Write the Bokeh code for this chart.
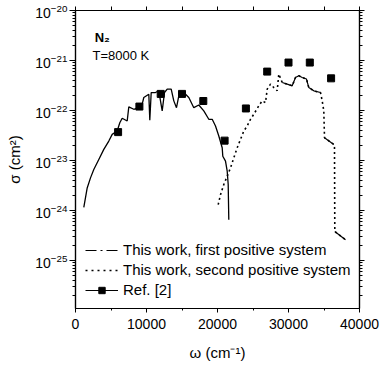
from bokeh.plotting import figure
from bokeh.models import (Range1d, LinearAxis, LogAxis, FixedTicker, Legend,
                          LegendItem)
from bokeh.core.properties import value
from bokeh.embed import file_html
from bokeh.resources import INLINE

NAN = float("nan")

# ---------------- data ----------------
# first positive system (cm^-1, cm^2)
fp_w = [1169, 1648, 2113, 2577, 3282, 3986, 4690, 5169, 5873, 6239, 6577, 7282,
        7507, 8211, 8915, 9394, 9620, 10324, 10465, 10662, 11268, 11732, 12211,
        12535, 12915, 13479, 13845, 14225, 14549, 15254, 15958, 16662, 17366,
        18070, 18775, 19254, 19718, 20183, 20662, 20746, 21127, 21366, 21507, 21592]
fp_s = [1.16e-24, 2.83e-24, 4.50e-24, 6.62e-24, 1.05e-23, 1.67e-23, 2.45e-23,
        3.34e-23, 3.89e-23, 5.71e-23, 7.00e-23, 6.18e-23, 1.18e-22, 1.06e-22,
        1.14e-22, 1.34e-22, 1.82e-22, 2.12e-22, 6.38e-23, 2.29e-22, 2.29e-22,
        2.48e-22, 9.82e-23, 2.29e-22, 2.68e-22, 2.68e-22, 1.56e-22, 1.14e-22,
        1.96e-22, 2.29e-22, 1.82e-22, 1.14e-22, 1.29e-22, 9.82e-23, 6.68e-23,
        6.68e-23, 4.91e-23, 3.09e-23, 1.80e-23, 1.22e-23, 9.72e-24, 6.12e-24,
        3.31e-24, 6.56e-25]

# second positive system
sp_w = [20099, 20423, 20887, 21366, 21831, 22296, 22775, 23239, 23704, 24183,
        24648, 25113, 25817, 26296, 26761, 27000, 27465, 27930, 28408, 28634,
        29113, 29817, 30521, 30986, 31451, 31930, 32535, 32859, 33563, 34507,
        34746, 34972, 35070, 36380, 36479, 36521, 38028]
sp_s = [1.31e-24, 2.08e-24, 3.31e-24, 4.86e-24, 7.13e-24, 1.13e-23, 1.80e-23,
        2.65e-23, 3.89e-23, 4.91e-23, 6.68e-23, 8.43e-23, 1.24e-22, 1.56e-22,
        1.44e-22, 2.68e-22, 3.37e-22, 2.88e-22, 2.48e-22, 5.36e-22, 3.63e-22,
        3.37e-22, 3.12e-22, 4.58e-22, 4.95e-22, 4.58e-22, 4.26e-22, 2.88e-22,
        2.48e-22, 2.29e-22, 1.56e-22, 9.82e-23, 2.86e-23, 2.10e-23, 1.80e-23,
        3.82e-25, 2.61e-25]
# portions of the second system that appear as continuous strokes
sp_solid_parts = [(20, 30), (32, 34), (35, 37)]

# Ref. [2]
ref_w = [6000, 9000, 12000, 15000, 18000, 21000, 24000, 27000, 30000, 33000, 36000]
ref_s = [3.7e-23, 1.2e-22, 2.15e-22, 2.15e-22, 1.55e-22, 2.5e-23, 1.1e-22,
         6.0e-22, 9.1e-22, 9.1e-22, 4.4e-22]

x_ticks = [0, 10000, 20000, 30000, 40000]
x_minor = [5000, 15000, 25000, 35000]
x_top_ticks = [0, 5000, 10000, 15000, 20000, 25000, 30000, 35000, 40000]
y_ticks = [1e-25, 1e-24, 1e-23, 1e-22, 1e-21, 1e-20]
y_minor = [m * 10.0 ** e for e in range(-26, -20) for m in range(2, 10)]

labels = ["This work, first positive system",
          "This work, second positive system",
          "Ref. [2]"]

FONT = "Liberation Sans"

# ---------------- figure ----------------
p = figure(width=380, height=369, x_range=Range1d(0, 40000),
           y_range=Range1d(1.1e-26, 1e-20), y_axis_type="log",
           output_backend="svg", toolbar_location=None,
           min_border_left=75, min_border_right=21, min_border_top=10,
           min_border_bottom=61)
p.grid.visible = False
p.outline_line_color = "black"
p.outline_line_width = 1.2


def style_axis(ax, tick_out=5, minor_out=3):
    ax.axis_line_color = "black"
    ax.axis_line_width = 1.2
    ax.major_tick_in = 0
    ax.major_tick_out = tick_out
    ax.minor_tick_in = 0
    ax.minor_tick_out = minor_out
    ax.major_tick_line_color = "black"
    ax.minor_tick_line_color = "black"
    ax.major_label_text_font = FONT
    ax.major_label_text_color = "black"
    ax.major_label_text_font_size = "14px"
    ax.axis_label_text_font = FONT
    ax.axis_label_text_font_style = "normal"
    ax.axis_label_text_font_size = "15px"
    ax.axis_label_text_color = "black"


xa = p.xaxis[0]
xa.ticker = FixedTicker(ticks=x_ticks, minor_ticks=x_minor)
style_axis(xa, tick_out=4, minor_out=2)
xa.major_label_standoff = 6
xa.axis_label = "ω (cm⁻¹)"
xa.axis_label_standoff = 12

ya = p.yaxis[0]
ya.ticker = FixedTicker(ticks=y_ticks, minor_ticks=y_minor)
style_axis(ya, tick_out=6, minor_out=3)
ya.major_label_standoff = 2
ya.axis_label = "σ (cm²)"
ya.axis_label_standoff = 9

# unlabeled mirror axes (top / right)
top = LinearAxis(ticker=FixedTicker(ticks=x_top_ticks, minor_ticks=[]))
style_axis(top, tick_out=4, minor_out=0)
top.major_label_overrides = {t: "" for t in x_top_ticks}
top.major_label_text_font_size = "1px"
top.major_label_standoff = 0
p.add_layout(top, "above")

right = LogAxis(ticker=FixedTicker(ticks=y_ticks, minor_ticks=y_minor))
style_axis(right, tick_out=5, minor_out=3)
right.major_label_overrides = {t: "" for t in y_ticks}
right.major_label_text_font_size = "1px"
right.major_label_standoff = 0
p.add_layout(right, "right")

# ---------------- data marks ----------------
p.line(fp_w, fp_s, line_color="black", line_width=1.3)
p.line(sp_w, sp_s, line_color="black", line_width=1.6, line_dash="2 3")
for a, b in sp_solid_parts:
    p.line(sp_w[a:b], sp_s[a:b], line_color="black", line_width=1.2)
p.scatter(ref_w, ref_s, marker="square", size=7, fill_color="black",
          line_color="black")

# legend-only renderers (no visible data)
lg1 = p.line([NAN], [NAN], line_color="black", line_width=1.2,
             line_dash="11 4 2 4")
lg2 = p.line([NAN], [NAN], line_color="black", line_width=1.5,
             line_dash="2 4")
lg3a = p.line([NAN], [NAN], line_color="black", line_width=1.2)
lg3b = p.scatter([NAN], [NAN], marker="square", size=7, fill_color="black",
                 line_color="black")

legend = Legend(items=[LegendItem(label=labels[0], renderers=[lg1]),
                       LegendItem(label=labels[1], renderers=[lg2]),
                       LegendItem(label=labels[2], renderers=[lg3a, lg3b])],
                location=(10, 10), glyph_width=33, glyph_height=16,
                label_height=16, spacing=3, padding=0, margin=0,
                label_standoff=5, border_line_color=None,
                background_fill_alpha=0, label_text_font=FONT,
                label_text_font_size="15px", label_text_color="black")
p.add_layout(legend)

# ---------------- annotations ----------------
p.text(x=[2700], y=[2.9e-21], text=["N₂"], text_font=value(FONT),
       text_font_style="bold", text_font_size="13px",
       text_baseline="alphabetic", text_align="left", text_color="black")
p.text(x=[2400], y=[1.25e-21], text=["T=8000 K"], text_font=value(FONT),
       text_font_size="13px", text_baseline="alphabetic", text_align="left",
       text_color="black")

open("out.html", "w").write(file_html(p, INLINE))
